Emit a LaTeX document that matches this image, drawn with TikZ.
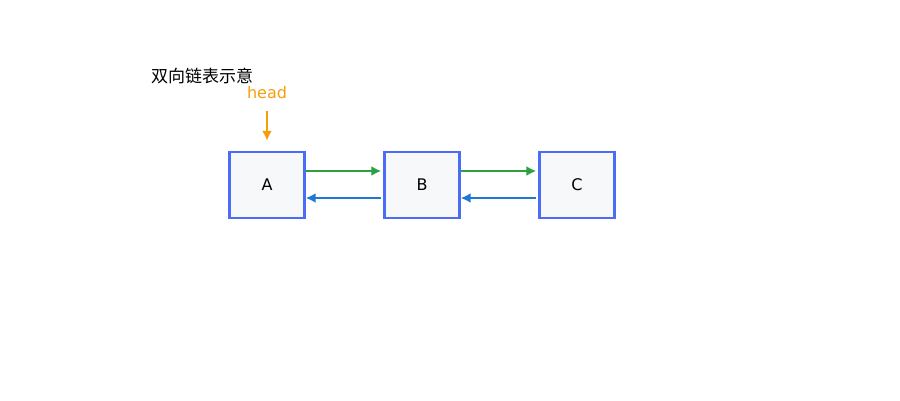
\documentclass[tikz,border=0pt]{standalone}
\usepackage{fontspec}
\setmainfont{DejaVu Sans}
\newfontfamily\cjk{Noto Sans CJK SC}
\usetikzlibrary{arrows.meta}
\definecolor{boxblue}{HTML}{4A6CF7}
\definecolor{boxfill}{HTML}{F7F8FA}
\definecolor{nextgreen}{HTML}{2EA043}
\definecolor{prevblue}{HTML}{1F78D1}
\definecolor{headorange}{HTML}{F59E0B}
\tikzset{
  listnode/.style={draw=boxblue, fill=boxfill, line width=2.4pt, minimum width=75pt, minimum height=66pt, inner sep=0pt, font=\fontsize{16}{18}\selectfont},
  linkarrow/.style={line width=2.8pt, -{Latex[length=10pt,width=10pt]}},
  nextarrow/.style={linkarrow, draw=nextgreen},
  prevarrow/.style={linkarrow, draw=prevblue},
  headarrow/.style={linkarrow, draw=headorange}
}
\begin{document}
\begin{tikzpicture}[x=1pt,y=-1pt]
\useasboundingbox (0,0) rectangle (900,400);
% draw title
\node[anchor=west, inner sep=0pt, font=\cjk\fontsize{17}{20}\selectfont] (title) at (151,76) {双向链表示意};
% draw nodes
\node[listnode] (A) at (267,185) {A};
\node[listnode] (B) at (422,185) {B};
\node[listnode] (C) at (577,185) {C};
% draw head pointer
\node[text=headorange, font=\fontsize{16}{18}\selectfont] (head) at (267,93) {head};
\coordinate (headtop) at (267,111);
\draw[headarrow] (headtop) -- ([yshift=10pt]A.north);
% draw next links
\draw[nextarrow] ([yshift=14pt]A.east) -- ([yshift=14pt,xshift=-2pt]B.west);
\draw[nextarrow] ([yshift=14pt]B.east) -- ([yshift=14pt,xshift=-2pt]C.west);
% draw prev links
\draw[prevarrow] ([yshift=-13pt,xshift=-2pt]B.west) -- ([yshift=-13pt]A.east);
\draw[prevarrow] ([yshift=-13pt,xshift=-2pt]C.west) -- ([yshift=-13pt]B.east);
\end{tikzpicture}
\end{document}
